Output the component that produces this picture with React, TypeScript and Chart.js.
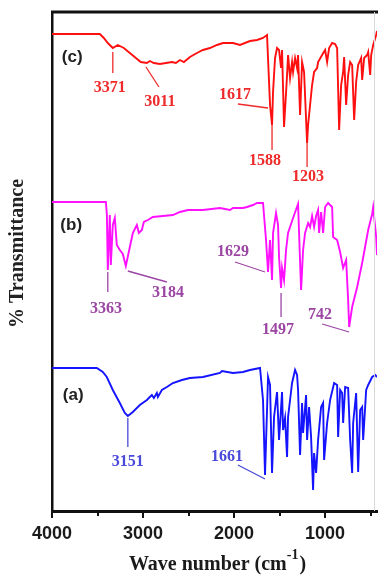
import React, { useEffect, useRef } from "react";
import { Chart, registerables } from "chart.js";

Chart.register(...registerables);

// ---------- data (wavenumber in cm-1, transmittance in arbitrary offset units) ----------
const waveC = [4000, 3474, 3431, 3387, 3332, 3277, 3211, 3145, 3079, 3024, 2958, 2925, 2881, 2815, 2749, 2683, 2639, 2595, 2551, 2485, 2408, 2342, 2265, 2188, 2122, 2012, 1935, 1825, 1748, 1682, 1638, 1605, 1583, 1572, 1550, 1528, 1506, 1484, 1473, 1451, 1418, 1407, 1385, 1363, 1352, 1330, 1308, 1297, 1275, 1253, 1231, 1198, 1187, 1165, 1143, 1121, 1088, 1077, 1033, 1000, 978, 956, 923, 890, 868, 846, 824, 802, 791, 769, 747, 725, 703, 681, 659, 637, 604, 593, 571, 538, 527, 505, 494, 472, 439, 430];
const transC = [95.4, 95.4, 94.6, 93.6, 92.6, 93.2, 92.6, 91.6, 90.6, 89.8, 89.6, 90.0, 89.6, 89.4, 89.6, 89.8, 89.6, 90.2, 89.8, 90.8, 91.6, 92.2, 92.6, 93.2, 93.6, 93.6, 93.2, 94.0, 94.2, 94.6, 95.2, 81.2, 77.2, 83.8, 90.6, 92.6, 92.2, 88.6, 92.2, 76.8, 87.2, 91.2, 86.6, 89.8, 87.8, 90.6, 88.6, 91.2, 79.2, 89.8, 87.8, 73.6, 77.2, 81.2, 85.2, 87.8, 88.6, 89.8, 91.2, 92.2, 89.8, 92.6, 93.6, 93.4, 92.6, 76.2, 85.2, 87.8, 90.8, 81.2, 87.2, 89.8, 89.2, 78.2, 85.8, 89.2, 90.6, 86.2, 90.6, 91.2, 91.8, 87.2, 91.2, 93.2, 95.2, 96.0];

const waveB = [4000, 3408, 3397, 3387, 3365, 3354, 3332, 3310, 3288, 3255, 3222, 3189, 3145, 3112, 3068, 3046, 3013, 2991, 2947, 2892, 2782, 2672, 2595, 2507, 2342, 2155, 2045, 2012, 1902, 1858, 1792, 1748, 1682, 1649, 1627, 1605, 1583, 1572, 1539, 1517, 1506, 1484, 1473, 1451, 1429, 1407, 1352, 1297, 1286, 1264, 1242, 1220, 1187, 1165, 1143, 1121, 1099, 1077, 1066, 1044, 1022, 1000, 967, 923, 912, 868, 835, 802, 769, 747, 736, 703, 648, 593, 527, 483, 472, 439, 430];
const transB = [61.8, 61.8, 59.2, 48.2, 59.2, 49.2, 57.2, 58.6, 53.2, 52.2, 51.4, 49.0, 52.8, 55.6, 57.2, 55.6, 56.2, 57.8, 58.2, 58.8, 59.0, 59.2, 59.8, 60.2, 60.2, 60.6, 60.2, 60.6, 60.6, 60.8, 61.2, 61.6, 61.6, 54.2, 47.8, 54.2, 46.2, 55.6, 59.6, 57.2, 50.8, 44.6, 48.6, 46.2, 52.2, 55.6, 58.6, 61.4, 55.6, 44.2, 52.2, 55.6, 57.6, 56.8, 59.0, 56.8, 59.0, 60.2, 55.6, 59.8, 55.6, 60.8, 61.6, 60.8, 54.8, 54.2, 51.8, 48.6, 50.2, 42.2, 36.8, 40.8, 44.8, 49.6, 56.2, 59.4, 60.8, 54.8, 51.2];

const waveA = [4000, 3508, 3442, 3398, 3332, 3255, 3200, 3167, 3112, 3035, 2958, 2903, 2881, 2848, 2837, 2793, 2738, 2672, 2573, 2485, 2342, 2155, 2133, 2012, 1902, 1825, 1715, 1682, 1660, 1638, 1627, 1605, 1583, 1561, 1528, 1506, 1473, 1462, 1440, 1418, 1407, 1385, 1363, 1330, 1308, 1297, 1275, 1253, 1242, 1209, 1198, 1176, 1154, 1132, 1121, 1099, 1077, 1044, 1022, 1011, 978, 945, 901, 868, 857, 835, 813, 802, 780, 747, 725, 703, 692, 659, 637, 615, 593, 582, 549, 527, 483, 450, 430];
const transA = [28.6, 28.6, 27.8, 26.8, 24.2, 21.6, 19.6, 19.0, 19.8, 21.2, 22.2, 23.2, 22.6, 23.6, 22.8, 24.2, 24.8, 25.6, 26.2, 26.6, 26.8, 27.6, 28.0, 27.6, 27.8, 28.2, 28.6, 22.2, 7.2, 20.2, 26.8, 25.2, 7.6, 18.8, 23.8, 14.2, 23.8, 16.2, 18.6, 10.8, 18.8, 22.2, 25.6, 28.2, 27.2, 24.2, 11.2, 21.6, 15.6, 23.2, 14.2, 20.8, 14.8, 4.2, 11.6, 7.6, 14.2, 20.8, 21.6, 10.2, 17.6, 22.2, 25.6, 25.2, 14.8, 24.2, 23.6, 17.6, 24.8, 24.6, 14.2, 7.6, 17.6, 23.6, 7.8, 20.2, 20.8, 14.2, 24.2, 25.2, 26.8, 27.2, 26.8];

const xTickValues = [4000, 3500, 3000, 2500, 2000, 1500, 1000, 500];
const xLabelledTicks = [4000, 3000, 2000, 1000];

const seriesNames = ["(a)", "(b)", "(c)"];
const seriesNameAt = [
  [3767, 23.2],
  [3789, 57.2],
  [3778, 90.8],
];

// peak annotations: text, text centre (cm-1, T), leader line (cm-1, T, cm-1, T)
const peaksC = [
  { text: "3371", at: [3365, 84.8], line: [3332, 91.8, 3332, 87.6] },
  { text: "3011", at: [2815, 82.0], line: [2968, 88.8, 2825, 84.8] },
  { text: "1617", at: [1991, 83.4], line: [1958, 81.4, 1627, 80.6] },
  { text: "1588", at: [1660, 70.2], line: [1583, 77.2, 1583, 72.2] },
  { text: "1203", at: [1187, 67.0], line: [1198, 73.6, 1198, 68.8] },
];
const peaksB = [
  { text: "3363", at: [3408, 40.6], line: [3387, 47.8, 3387, 43.8] },
  { text: "3184", at: [2727, 43.8], line: [3167, 48.0, 2738, 45.8] },
  { text: "1629", at: [2012, 52.0], line: [1990, 49.8, 1660, 47.8] },
  { text: "1497", at: [1517, 36.4], line: [1484, 43.6, 1484, 38.8] },
  { text: "742", at: [1055, 39.4], line: [1033, 37.4, 736, 35.8] },
];
const peaksA = [
  { text: "3151", at: [3167, 10.0], line: [3167, 18.6, 3167, 12.8] },
  { text: "1661", at: [2079, 11.0], line: [1958, 9.2, 1660, 6.4] },
];

// ---------- styles ----------
const lineColors = { a: "#1414ff", b: "#ff10ff", c: "#ff1010" };
const labelColors = { a: "#4a4ad8", b: "#9c46a4", c: "#ee2a2a" };

const toPoints = (xs: number[], ys: number[]) => xs.map((x, i) => ({ x, y: ys[i] }));

const overlayPlugin = {
  id: "overlay",
  afterDatasetsDraw(chart: any) {
    const { ctx, chartArea, scales } = chart;
    const xs = scales.x;
    const ys = scales.y;
    const px = (v: number) => xs.getPixelForValue(v);
    const py = (v: number) => ys.getPixelForValue(v);
    ctx.save();

    const groups: [any[], string][] = [
      [peaksC, labelColors.c],
      [peaksB, labelColors.b],
      [peaksA, labelColors.a],
    ];
    ctx.font = 'bold 16px "Liberation Serif", "Times New Roman", serif';
    ctx.textAlign = "center";
    ctx.textBaseline = "middle";
    groups.forEach(([peaks, color]) => {
      peaks.forEach((p: any) => {
        ctx.strokeStyle = color;
        ctx.lineWidth = 1.3;
        ctx.beginPath();
        ctx.moveTo(px(p.line[0]), py(p.line[1]));
        ctx.lineTo(px(p.line[2]), py(p.line[3]));
        ctx.stroke();
        ctx.fillStyle = color;
        ctx.fillText(p.text, px(p.at[0]), py(p.at[1]) + 1);
      });
    });

    ctx.font = 'bold 17px "Liberation Sans", Arial, sans-serif';
    ctx.fillStyle = "#222";
    seriesNames.forEach((n, i) => {
      ctx.fillText(n, px(seriesNameAt[i][0]), py(seriesNameAt[i][1]));
    });

    // frame top & right
    ctx.strokeStyle = "#111";
    ctx.lineWidth = 3;
    ctx.beginPath();
    ctx.moveTo(chartArea.left - 1, chartArea.top);
    ctx.lineTo(chartArea.right + 1, chartArea.top);
    ctx.stroke();
    ctx.strokeStyle = "#d8d8d8";
    ctx.lineWidth = 1;
    ctx.beginPath();
    ctx.moveTo(chartArea.right - 2.5, chartArea.top);
    ctx.lineTo(chartArea.right - 2.5, chartArea.bottom);
    ctx.stroke();

    // x tick marks
    ctx.strokeStyle = "#111";
    ctx.lineWidth = 2;
    xTickValues.forEach((v) => {
      const x = Math.round(px(v));
      const major = xLabelledTicks.includes(v);
      ctx.beginPath();
      ctx.moveTo(x, chartArea.bottom);
      ctx.lineTo(x, chartArea.bottom + (major ? 7 : 5));
      ctx.stroke();
    });

    // x axis title with superscript
    const cx = (chartArea.left + chartArea.right) / 2 + 3;
    const base = chartArea.bottom + 59;
    const mainFont = 'bold 20px "Liberation Serif", "Times New Roman", serif';
    const supFont = 'bold 14px "Liberation Serif", "Times New Roman", serif';
    const a = "Wave number (cm";
    const s = "-1";
    const b = ")";
    ctx.font = mainFont;
    const wa = ctx.measureText(a).width;
    const wb = ctx.measureText(b).width;
    ctx.font = supFont;
    const ws = ctx.measureText(s).width;
    const total = wa + ws + wb + 1;
    const x0 = cx - total / 2;
    ctx.fillStyle = "#1a1a1a";
    ctx.textAlign = "left";
    ctx.textBaseline = "alphabetic";
    ctx.font = mainFont;
    ctx.fillText(a, x0, base);
    ctx.font = supFont;
    ctx.fillText(s, x0 + wa, base - 11);
    ctx.font = mainFont;
    ctx.fillText(b, x0 + wa + ws + 1, base);

    // y axis title
    ctx.save();
    ctx.translate(18, (chartArea.top + chartArea.bottom) / 2 - 8);
    ctx.rotate(-Math.PI / 2);
    ctx.textAlign = "center";
    ctx.textBaseline = "middle";
    ctx.font = 'bold 20px "Liberation Serif", "Times New Roman", serif';
    ctx.fillStyle = "#222";
    ctx.fillText("% Transmittance", 0, 0);
    ctx.restore();

    ctx.restore();
  },
};

export default function App() {
  const canvasRef = useRef<HTMLCanvasElement | null>(null);

  useEffect(() => {
    document.body.style.margin = "0";
    const canvas = canvasRef.current;
    if (!canvas) return;
    const chart = new Chart(canvas, {
      type: "line",
      data: {
        datasets: [
          { label: "c", data: toPoints(waveC, transC), borderColor: lineColors.c },
          { label: "b", data: toPoints(waveB, transB), borderColor: lineColors.b },
          { label: "a", data: toPoints(waveA, transA), borderColor: lineColors.a },
        ].map((d) => ({
          ...d,
          borderWidth: 1.9,
          pointRadius: 0,
          tension: 0,
          fill: false,
        })),
      },
      options: {
        animation: false,
        responsive: true,
        maintainAspectRatio: false,
        events: [],
        layout: { padding: { top: 12, right: 1, left: 0, bottom: 0 } },
        plugins: { legend: { display: false }, tooltip: { enabled: false } },
        scales: {
          x: {
            type: "linear",
            reverse: true,
            min: 430,
            max: 4000,
            grid: { display: false, drawTicks: false, tickLength: 0 },
            border: { display: true, color: "#111", width: 3 },
            afterBuildTicks: (scale: any) => {
              scale.ticks = xLabelledTicks.map((v) => ({ value: v }));
            },
            ticks: {
              autoSkip: false,
              maxRotation: 0,
              padding: 12,
              color: "#1a1a1a",
              font: { family: '"Liberation Sans", Arial, sans-serif', size: 18, weight: "bold" },
              callback: (v: any) => String(v),
            },
            afterFit: (scale: any) => {
              scale.height = 66;
            },
          },
          y: {
            type: "linear",
            min: 0,
            max: 99.8,
            grid: { display: false, drawTicks: false },
            border: { display: true, color: "#111", width: 2.5 },
            ticks: { display: false },
            title: { display: false },
            afterFit: (scale: any) => {
              scale.width = 52;
            },
          },
        },
      },
      plugins: [overlayPlugin],
    });
    return () => chart.destroy();
  }, []);

  return (
    <div style={{ width: 378, height: 577, position: "relative" }}>
      <canvas ref={canvasRef} />
    </div>
  );
}
